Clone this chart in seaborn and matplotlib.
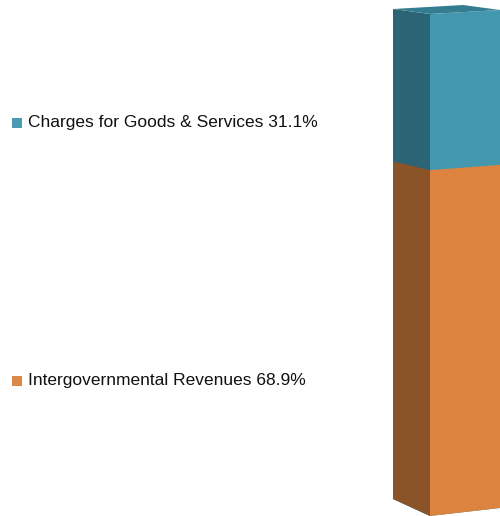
import numpy as np
import pandas as pd
import matplotlib
matplotlib.use("Agg")
import matplotlib.pyplot as plt
import matplotlib.transforms as mtransforms
from matplotlib.patches import Polygon, Rectangle
import seaborn as sns

# Revenue mix (percent of total)
categories = ["Intergovernmental Revenues", "Charges for Goods & Services"]
shares = [68.9, 31.1]
front_colors = ["#dc833f", "#4398b0"]
side_colors = ["#8b5328", "#2b6474"]
top_color = "#347d90"
legend_colors = ["#dd8845", "#4a9bb2"]

sns.set_theme(style="white")
plt.rcParams["font.family"] = ["Liberation Sans", "DejaVu Sans"]

W, H = 500, 516
fig = plt.figure(figsize=(W / 100, H / 100), dpi=100)


class Perspective(mtransforms.Transform):
    """Projective map of display space given by a 3x3 matrix."""
    input_dims = 2
    output_dims = 2
    is_separable = False
    has_inverse = False

    def __init__(self, M):
        super().__init__()
        self.M = M

    def transform_non_affine(self, values):
        v = np.asarray(values, dtype=float)
        p = np.c_[v, np.ones(len(v))] @ self.M.T
        return p[:, :2] / p[:, 2:3]


def homography(src, dst):
    A, b = [], []
    for (x, y), (u, v) in zip(src, dst):
        A.append([x, y, 1, 0, 0, 0, -u * x, -u * y]); b.append(u)
        A.append([0, 0, 0, x, y, 1, -v * x, -v * y]); b.append(v)
    h = np.linalg.solve(np.array(A), np.array(b))
    return np.append(h, 1).reshape(3, 3)


def to_disp(pts):
    # pixel positions measured from the top-left corner -> display coords
    return [(x, H - y) for x, y in pts]


def stacked_bar(ax, colors):
    df = pd.DataFrame({"group": ["Revenue"], "total": [sum(shares)],
                       "base": [shares[0]]})
    sns.barplot(data=df, x="group", y="total", color=colors[1], width=1.0,
                saturation=1, ax=ax)
    sns.barplot(data=df, x="group", y="base", color=colors[0], width=1.0,
                saturation=1, ax=ax)
    ax.set_xlim(-0.5, 0.5)
    ax.set_ylim(0, 100)
    ax.axis("off")


# front face and side face of the column
ax_front = fig.add_axes([430 / W, 1 / H, 70 / W, 501 / H])
ax_side = fig.add_axes([393 / W, 1 / H, 37 / W, 501 / H])
stacked_bar(ax_front, front_colors)
stacked_bar(ax_side, side_colors)

faces = {
    ax_front: to_disp([(430, 516), (500, 508), (500, 10), (430, 14)]),
    ax_side: to_disp([(393, 499), (430, 516), (430, 14), (393, 9)]),
}
persp = {}
for ax, quad in faces.items():
    src = ax.transAxes.transform([(0, 0), (1, 0), (1, 1), (0, 1)])
    persp[ax] = Perspective(homography(src, quad))
    tr = ax.transData + persp[ax]
    for p in ax.patches:
        p.set_transform(tr)
        p.set_clip_on(False)
        p.set_linewidth(0)

# top face from the upper corners of both faces
left_c = (ax_side.transData + persp[ax_side]).transform([(-0.5, 100)])[0]
front_c = (ax_front.transData + persp[ax_front]).transform([(-0.5, 100)])[0]
right_c = (ax_front.transData + persp[ax_front]).transform([(0.5, 100)])[0]
back_c = left_c + (right_c - front_c)
fig.patches.append(Polygon([left_c, front_c, right_c, back_c], closed=True,
                           transform=None, facecolor=top_color,
                           edgecolor="none", figure=fig))

# labels with colour keys
label_rows = [(381, 0), (123, 1)]
for y, i in label_rows:
    fig.patches.append(Rectangle((12, H - y - 5), 10, 10, transform=None,
                                 facecolor=legend_colors[i], edgecolor="none",
                                 figure=fig))
    fig.text(28 / W, 1 - y / H, f"{categories[i]} {shares[i]:.1f}%",
             fontsize=12.5, color="#111111", va="center", ha="left")

fig.savefig("out.png", dpi=100)
